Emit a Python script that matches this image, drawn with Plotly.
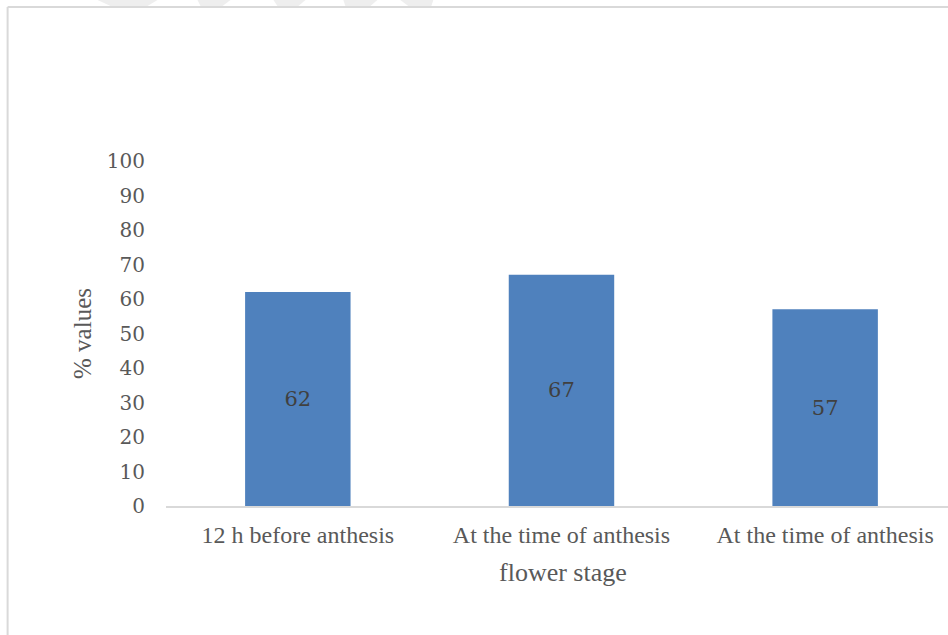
import plotly.graph_objects as go

categories = ["12 h before anthesis", "At the time of anthesis", "At the time of anthesis "]
values = [62, 67, 57]
y_ticks = [0, 10, 20, 30, 40, 50, 60, 70, 80, 90, 100]
x_title = "flower stage"
y_title = "% values"

W, H = 948, 635
L, R, T, B = 165.5, 0, 161, 129
pw = W - L - R
ph = H - T - B

def px2paper_x(px):
    return (px - L) / pw

def px2paper_y(py):
    return (H - B - py) / ph

fig = go.Figure()
fig.add_trace(go.Bar(
    x=list(range(len(categories))), y=values,
    width=0.4,
    marker=dict(color="#4f81bd", line=dict(color="#4f81bd", width=0)),
    text=[str(v) for v in values],
    textposition="inside", insidetextanchor="middle",
    textfont=dict(family="DejaVu Serif", size=21, color="#404040"),
    cliponaxis=False,
))

shapes = []
# chart border (left and top)
shapes.append(dict(type="line", xref="paper", yref="paper",
                   x0=px2paper_x(7), x1=px2paper_x(W + 5), y0=px2paper_y(7), y1=px2paper_y(7),
                   line=dict(color="#d9d9d9", width=2)))
shapes.append(dict(type="line", xref="paper", yref="paper",
                   x0=px2paper_x(7), x1=px2paper_x(7), y0=px2paper_y(7), y1=px2paper_y(H + 5),
                   line=dict(color="#d9d9d9", width=2)))
# faint watermark chevrons at top
for (a, b, c, d) in [(97, 157, 110, 147), (197, 230, 200, 222), (273, 305, 277, 298), (343, 377, 345, 370), (400, 433, 408, 431)]:
    path = "M {},{} L {},{} L {},{} L {},{} Z".format(
        px2paper_x(a), px2paper_y(0), px2paper_x(b), px2paper_y(0),
        px2paper_x(d), px2paper_y(6), px2paper_x(c), px2paper_y(6))
    shapes.append(dict(type="path", xref="paper", yref="paper", path=path,
                       fillcolor="#eeeeee", line=dict(width=0), layer="below"))

fig.update_layout(
    width=W, height=H,
    margin=dict(l=L, r=R, t=T, b=B, pad=0),
    paper_bgcolor="white", plot_bgcolor="white",
    showlegend=False,
    shapes=shapes,
    annotations=[dict(text=x_title, xref="paper", yref="paper",
                      x=px2paper_x(563), y=px2paper_y(572),
                      xanchor="center", yanchor="middle", showarrow=False,
                      font=dict(family="Liberation Serif", size=26, color="#595959"))],
    xaxis=dict(
        tickmode="array", tickvals=list(range(len(categories))), ticktext=[c.strip() for c in categories],
        range=[-0.5, 2.466],
        showgrid=False, zeroline=False,
        showline=True, linecolor="#d9d9d9", linewidth=2,
        ticks="", tickfont=dict(family="Liberation Serif", size=24, color="#595959"),
        ticklabelstandoff=6,
    ),
    yaxis=dict(
        range=[0, 100], tickmode="array", tickvals=y_ticks,
        showgrid=False, zeroline=False, showline=False,
        ticks="", tickfont=dict(family="DejaVu Serif", size=20, color="#595959"),
        ticklabelstandoff=20,
        title=dict(text=y_title, font=dict(family="Liberation Serif", size=25, color="#595959"), standoff=8),
    ),
)

fig.write_html("out.html")
